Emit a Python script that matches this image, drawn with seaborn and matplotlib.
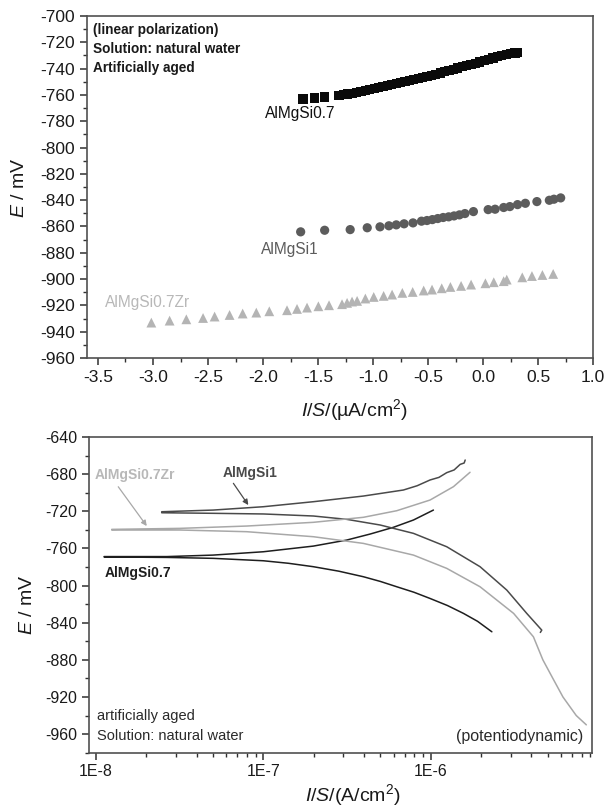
import matplotlib
matplotlib.use("Agg")
import matplotlib.pyplot as plt
import numpy as np
import pandas as pd
import seaborn as sns
from matplotlib.ticker import MultipleLocator, FixedLocator, FixedFormatter, LogLocator, NullFormatter

sns.set_style("ticks")
plt.rcParams["font.family"] = ["Liberation Sans", "DejaVu Sans"]
plt.rcParams["mathtext.fontset"] = "custom"
plt.rcParams["mathtext.rm"] = "Liberation Sans"
plt.rcParams["mathtext.it"] = "Liberation Sans:italic"
plt.rcParams["mathtext.bf"] = "Liberation Sans:bold"

# ---- linear polarization (I/S in uA/cm2, E in mV) ----
lp_i_07 = [-1.636, -1.534, -1.443, -1.31, -1.27, -1.23, -1.19, -1.15, -1.11, -1.07, -1.03,
           -0.99, -0.95, -0.91, -0.87, -0.83, -0.79, -0.75, -0.71, -0.67, -0.63, -0.59,
           -0.55, -0.51, -0.47, -0.43, -0.39, -0.35, -0.31, -0.27, -0.23, -0.19, -0.15,
           -0.11, -0.07, -0.03, 0.01, 0.05, 0.09, 0.13, 0.17, 0.21, 0.25, 0.29, 0.31]
lp_e_07 = [-763.1, -762.3, -761.6, -760.5, -759.9, -759.3, -758.7, -758.0, -757.3, -756.5, -755.7,
           -755.0, -754.3, -753.6, -752.8, -752.2, -751.5, -750.8, -750.1, -749.3, -748.4, -747.6,
           -746.8, -746.0, -745.2, -744.3, -743.4, -742.5, -741.5, -740.6, -739.6, -738.7, -737.9,
           -737.0, -736.0, -735.0, -734.0, -733.0, -732.0, -731.1, -730.3, -729.5, -728.8, -728.2, -727.9]

lp_i_1 = [-1.658, -1.440, -1.208, -1.053, -0.937, -0.856, -0.789, -0.718, -0.637, -0.560,
          -0.510, -0.461, -0.412, -0.363, -0.313, -0.264, -0.215, -0.165, -0.088, 0.046,
          0.109, 0.187, 0.243, 0.313, 0.384, 0.489, 0.602, 0.644, 0.705]
lp_e_1 = [-864.1, -862.9, -862.4, -861.0, -860.3, -859.5, -858.8, -858.0, -857.3, -856.0,
          -855.5, -854.8, -854.0, -853.2, -852.7, -852.0, -851.2, -850.2, -848.7, -847.2,
          -846.9, -845.6, -844.9, -843.4, -842.4, -841.1, -840.1, -839.3, -838.3]

lp_i_zr = [-3.015, -2.849, -2.697, -2.545, -2.440, -2.304, -2.185, -2.061, -1.943, -1.782,
           -1.691, -1.600, -1.497, -1.400, -1.282, -1.236, -1.191, -1.145, -1.070, -0.994,
           -0.904, -0.827, -0.734, -0.640, -0.540, -0.464, -0.376, -0.297, -0.200, -0.109,
           0.021, 0.097, 0.187, 0.215, 0.356, 0.444, 0.539, 0.637]
lp_e_zr = [-933.1, -931.6, -930.6, -929.6, -928.5, -927.3, -926.2, -925.5, -924.5, -923.7,
           -922.7, -921.7, -920.7, -919.9, -919.1, -918.1, -917.1, -916.6, -914.8, -913.6,
           -912.8, -911.8, -910.5, -909.8, -908.7, -908.0, -907.0, -906.0, -905.2, -904.2,
           -903.2, -902.4, -901.6, -900.4, -898.7, -897.7, -896.9, -896.1]

# ---- potentiodynamic curves (I/S in A/cm2, E in mV), cathodic branch then anodic ----
pd_i_07 = [2.32e-6, 1.905e-6, 1.57e-6, 1.259e-6, 9.91e-7, 7.94e-7, 6.27e-7, 5.01e-7, 3.96e-7,
           2.82e-7, 1.99e-7, 1.41e-7, 1.0e-7, 5.02e-8, 2.65e-8, 1.117e-8,
           1.117e-8, 2.65e-8, 5.0e-8, 1.0e-7, 1.99e-7, 3.15e-7, 4.35e-7, 5.98e-7, 7.89e-7, 1.038e-6]
pd_e_07 = [-849.8, -838.5, -830.0, -821.5, -813.9, -807.2, -801.3, -795.6, -790.5,
           -784.5, -779.7, -776.0, -773.3, -770.7, -769.7, -769.2,
           -768.8, -768.8, -767.2, -763.6, -757.5, -751.0, -744.5, -737.3, -729.4, -718.7]

pd_i_1 = [4.52e-6, 4.61e-6, 3.75e-6, 2.85e-6, 1.972e-6, 1.247e-6, 7.89e-7, 4.99e-7, 3.15e-7,
          1.99e-7, 1.0e-7, 5.02e-8, 2.47e-8,
          2.47e-8, 5.02e-8, 1.0e-7, 1.99e-7, 3.96e-7, 6.87e-7, 8.3e-7, 9.91e-7, 1.12e-6,
          1.247e-6, 1.38e-6, 1.5e-6, 1.585e-6, 1.607e-6]
pd_e_1 = [-850.5, -848.0, -830.0, -804.9, -779.7, -758.2, -743.8, -734.8, -728.7,
          -725.1, -722.9, -722.2, -721.6,
          -720.5, -718.7, -715.1, -709.7, -703.6, -697.1, -692.5, -686.3, -683.5,
          -678.4, -675.5, -669.5, -668.0, -664.8]

pd_i_zr = [8.51e-6, 7.41e-6, 6.17e-6, 5.37e-6, 4.68e-6, 4.11e-6, 3.13e-6, 1.972e-6, 1.247e-6,
           7.89e-7, 3.96e-7, 1.99e-7, 7.96e-8, 3.18e-8, 1.242e-8,
           1.242e-8, 3.18e-8, 7.96e-8, 1.99e-7, 3.96e-7, 6.27e-7, 9.91e-7, 1.368e-6, 1.718e-6]
pd_e_zr = [-950.0, -940.0, -920.0, -900.0, -880.0, -855.2, -830.0, -801.3, -781.5,
           -767.2, -754.6, -747.4, -742.0, -740.2, -740.2,
           -739.5, -738.4, -735.9, -731.9, -726.5, -719.4, -707.9, -693.5, -678.0]

alloys = ["AlMgSi0.7", "AlMgSi1", "AlMgSi0.7Zr"]
lp_colors = {"AlMgSi0.7": "#0a0a0a", "AlMgSi1": "#5c5c5c", "AlMgSi0.7Zr": "#b4b4b4"}
pd_colors = {"AlMgSi0.7": "#1e1e1e", "AlMgSi1": "#4a4a4a", "AlMgSi0.7Zr": "#a8a8a8"}

lin = pd.concat([
    pd.DataFrame({"i": lp_i_07, "E": lp_e_07, "alloy": "AlMgSi0.7"}),
    pd.DataFrame({"i": lp_i_1, "E": lp_e_1, "alloy": "AlMgSi1"}),
    pd.DataFrame({"i": lp_i_zr, "E": lp_e_zr, "alloy": "AlMgSi0.7Zr"}),
], ignore_index=True)

dyn = pd.concat([
    pd.DataFrame({"i": pd_i_07, "E": pd_e_07, "alloy": "AlMgSi0.7"}),
    pd.DataFrame({"i": pd_i_1, "E": pd_e_1, "alloy": "AlMgSi1"}),
    pd.DataFrame({"i": pd_i_zr, "E": pd_e_zr, "alloy": "AlMgSi0.7Zr"}),
], ignore_index=True)

fig = plt.figure(figsize=(6.04, 8.07), dpi=100)
ax1 = fig.add_axes([0.144, 0.5564, 0.838, 0.4238])
ax2 = fig.add_axes([0.1479, 0.0673, 0.8322, 0.3912])

spine_col = "#505050"
tick_col = "#303030"

# ---------- top panel ----------
sns.scatterplot(data=lin, x="i", y="E", hue="alloy", style="alloy", size="alloy",
                palette=lp_colors,
                markers={"AlMgSi0.7": "s", "AlMgSi1": "o", "AlMgSi0.7Zr": "^"},
                sizes={"AlMgSi0.7": 44, "AlMgSi1": 44, "AlMgSi0.7Zr": 50},
                linewidth=0, legend=False, ax=ax1, zorder=3)
ax1.set_xlim(-3.6, 1.0)
ax1.set_ylim(-960, -700)
ax1.xaxis.set_major_locator(MultipleLocator(0.5))
ax1.xaxis.set_minor_locator(MultipleLocator(0.25))
ax1.yaxis.set_major_locator(MultipleLocator(20))
ax1.yaxis.set_minor_locator(MultipleLocator(10))
ax1.xaxis.set_major_formatter(plt.FuncFormatter(lambda v, p: f"{v:.1f}"))
ax1.yaxis.set_major_formatter(plt.FuncFormatter(lambda v, p: f"{v:.0f}"))
ax1.tick_params(axis="both", which="major", labelsize=12.5, length=5, width=1.1,
                color=tick_col, labelcolor="#1a1a1a", direction="out")
ax1.tick_params(axis="both", which="minor", length=3, width=1.0, color=tick_col, direction="out")
ax1.set_xlabel(r"$I/S$/(µA/cm$^2$)", fontsize=14, color="#1a1a1a", va="center")
ax1.set_ylabel(r"$E$ / mV", fontsize=14, color="#1a1a1a", va="center")
ax1.xaxis.set_label_coords(0.528, -0.152)
ax1.yaxis.set_label_coords(-0.134, 0.4985)

for t, yy in zip(["(linear polarization)", "Solution: natural water", "Artificially aged"],
                 [0.959, 0.9035, 0.848]):
    ax1.text(0.0113, yy, t, transform=ax1.transAxes, fontsize=9.8, fontweight="bold",
             color="#1a1a1a", ha="left", va="center")

ax1.text(-1.66, -774, "AlMgSi0.7", fontsize=11.2, color="#111111", ha="center", va="center")
ax1.text(-1.757, -877.5, "AlMgSi1", fontsize=11.2, color="#5c5c5c", ha="center", va="center")
ax1.text(-3.05, -918, "AlMgSi0.7Zr", fontsize=11.2, color="#b8b8b8", ha="center", va="center")

# ---------- bottom panel ----------
sns.lineplot(data=dyn, x="i", y="E", hue="alloy", palette=pd_colors, sort=False,
             estimator=None, linewidth=1.1, legend=False, ax=ax2)
ax2.set_xscale("log")
ax2.set_xlim(9.12e-9, 9.2e-6)
ax2.set_ylim(-980, -640)
ax2.xaxis.set_major_locator(FixedLocator([1e-8, 1e-7, 1e-6]))
ax2.xaxis.set_major_formatter(FixedFormatter(["1E-8", "1E-7", "1E-6"]))
ax2.xaxis.set_minor_locator(LogLocator(base=10, subs=np.arange(2, 10)))
ax2.xaxis.set_minor_formatter(NullFormatter())
ax2.yaxis.set_major_locator(MultipleLocator(40))
ax2.yaxis.set_minor_locator(MultipleLocator(20))
ax2.yaxis.set_major_formatter(plt.FuncFormatter(lambda v, p: f"{v:.0f}"))
ax2.tick_params(axis="both", which="major", labelsize=11.5, length=5, width=1.1,
                color=tick_col, labelcolor="#1a1a1a", direction="out")
ax2.tick_params(axis="both", which="minor", length=3, width=1.0, color=tick_col, direction="out")
ax2.set_xlabel(r"$I/S$/(A/cm$^2$)", fontsize=14, color="#1a1a1a", va="center")
ax2.set_ylabel(r"$E$ / mV", fontsize=14, color="#1a1a1a", va="center")
ax2.xaxis.set_label_coords(0.525, -0.134)
ax2.yaxis.set_label_coords(-0.124, 0.468)

ax2.text(1.71e-8, -681, "AlMgSi0.7Zr", fontsize=10, fontweight="bold", color="#b8b8b8",
         ha="center", va="center")
ax2.text(8.32e-8, -679, "AlMgSi1", fontsize=10, fontweight="bold", color="#4a4a4a",
         ha="center", va="center")
ax2.text(1.79e-8, -787, "AlMgSi0.7", fontsize=10, fontweight="bold", color="#1e1e1e",
         ha="center", va="center")
ax2.annotate("", xy=(2.01e-8, -735.9), xytext=(1.358e-8, -693.6),
             arrowprops=dict(arrowstyle="-|>", color="#a8a8a8", lw=0.9, mutation_scale=8,
                             shrinkA=0, shrinkB=0))
ax2.annotate("", xy=(8.13e-8, -713.3), xytext=(6.62e-8, -689.9),
             arrowprops=dict(arrowstyle="-|>", color="#4a4a4a", lw=0.9, mutation_scale=8,
                             shrinkA=0, shrinkB=0))

ax2.text(0.0147, 0.116, "artificially aged", transform=ax2.transAxes, fontsize=10.5,
         color="#2a2a2a", ha="left", va="center")
ax2.text(0.0147, 0.054, "Solution: natural water", transform=ax2.transAxes, fontsize=10.5,
         color="#2a2a2a", ha="left", va="center")
ax2.text(0.983, 0.05, "(potentiodynamic)", transform=ax2.transAxes, fontsize=11.5,
         color="#2a2a2a", ha="right", va="center")

for ax in (ax1, ax2):
    for sp in ax.spines.values():
        sp.set_visible(True)
        sp.set_color(spine_col)
        sp.set_linewidth(1.2)
    ax.tick_params(top=False, right=False)

fig.savefig("out.png", dpi=100, facecolor="white")
